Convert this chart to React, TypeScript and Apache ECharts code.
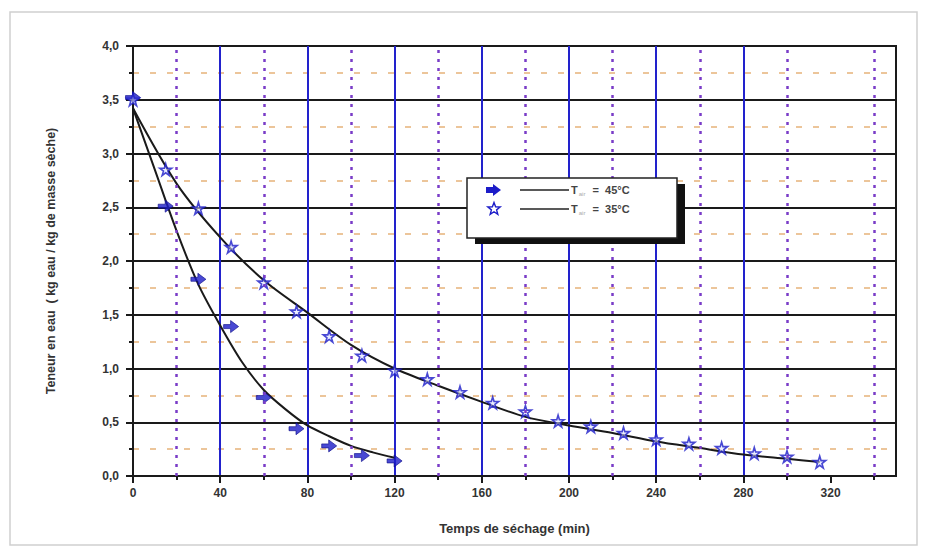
import React, { useEffect, useRef } from "react";
import * as echarts from "echarts";

// Drying kinetics: moisture content vs drying time at two air temperatures
const times45 = [0, 15, 30, 45, 60, 75, 90, 105, 120];
const moisture45 = [3.52, 2.51, 1.83, 1.39, 0.73, 0.44, 0.28, 0.19, 0.14];

const times35 = [0, 15, 30, 45, 60, 75, 90, 105, 120, 135, 150, 165, 180, 195, 210, 225, 240, 255, 270, 285, 300, 315];
const moisture35 = [3.5, 2.85, 2.49, 2.13, 1.8, 1.53, 1.3, 1.12, 0.98, 0.9, 0.78, 0.68, 0.6, 0.51, 0.46, 0.4, 0.34, 0.3, 0.26, 0.21, 0.18, 0.13];

// Fitted model curves
const fitTimes45 = [0, 10, 20, 30, 40, 50, 60, 70, 80, 90, 100, 110, 120];
const fitValues45 = [3.42, 2.85, 2.28, 1.78, 1.4, 1.06, 0.8, 0.62, 0.47, 0.37, 0.28, 0.22, 0.17];

const fitTimes35 = [0, 20, 40, 60, 80, 100, 120, 140, 160, 180, 200, 220, 240, 260, 280, 300, 315];
const fitValues35 = [3.42, 2.72, 2.22, 1.82, 1.52, 1.22, 1.0, 0.84, 0.69, 0.55, 0.47, 0.4, 0.32, 0.26, 0.2, 0.16, 0.13];

const xMajorTicks = [0, 40, 80, 120, 160, 200, 240, 280, 320];
const xMinorTicks = [20, 60, 100, 140, 180, 220, 260, 300, 340];

const legendLabels = ["45°C", "35°C"];
const xAxisTitle = "Temps de séchage (min)";
const yAxisTitle = "Teneur en eau  ( kg eau / kg de masse sèche)";

const BLUE = "#1c1cc8";
const FONT = "Liberation Sans, Arial, sans-serif";
const ARROW_PATH = "path://M0,4 L7,4 L7,0 L15,6 L7,12 L7,8 L0,8 Z";
const STAR_PATH =
  "path://M50,0 L61,35 L98,35 L68,57 L79,91 L50,70 L21,91 L32,57 L2,35 L39,35 Z";

function starPoints(cx: number, cy: number, r: number): number[][] {
  const pts: number[][] = [];
  for (let i = 0; i < 10; i++) {
    const rr = i % 2 === 0 ? r : r * 0.42;
    const a = -Math.PI / 2 + (i * Math.PI) / 5;
    pts.push([cx + rr * Math.cos(a), cy + rr * Math.sin(a)]);
  }
  return pts;
}

export default function App() {
  const ref = useRef<HTMLDivElement>(null);

  useEffect(() => {
    if (!ref.current) return;
    const chart = echarts.init(ref.current, null, { renderer: "svg" });

    const zip = (xs: number[], ys: number[]) => xs.map((x, i) => [x, ys[i]]);

    // legend box, drawn above the grid
    const LX = 467;
    const LY = 178;
    const LZ = 100;

    chart.setOption({
      animation: false,
      backgroundColor: "#ffffff",
      textStyle: { fontFamily: FONT },
      grid: {
        left: 133,
        top: 46,
        right: 29,
        bottom: 83,
        show: true,
        borderColor: "#1a1a1a",
        borderWidth: 2,
        backgroundColor: "transparent",
      },
      xAxis: [
        {
          type: "value",
          position: "bottom",
          min: 0,
          max: 350,
          interval: 40,
          name: xAxisTitle,
          nameLocation: "middle",
          nameGap: 46,
          nameTextStyle: { fontSize: 13, fontWeight: "bold", color: "#333", fontFamily: FONT },
          axisLine: { show: true, lineStyle: { color: "#1a1a1a", width: 2 } },
          axisTick: { show: true, length: 7, lineStyle: { color: "#1a1a1a", width: 2 }, customValues: xMajorTicks },
          axisLabel: {
            show: true,
            margin: 11,
            fontSize: 12,
            fontWeight: "bold",
            color: "#333",
            fontFamily: FONT,
            customValues: xMajorTicks,
          },
          splitLine: {
            show: true,
            showMinLine: false,
            showMaxLine: false,
            lineStyle: { color: "#2222cc", width: 2 },
          },
        },
        {
          type: "value",
          position: "bottom",
          min: 0,
          max: 350,
          interval: 20,
          axisLine: { show: false },
          axisTick: { show: true, length: 4, lineStyle: { color: "#1a1a1a", width: 2 }, customValues: xMinorTicks },
          axisLabel: { show: false },
          splitLine: { show: false },
        },
      ],
      yAxis: {
        type: "value",
        min: 0,
        max: 4,
        interval: 0.5,
        name: yAxisTitle,
        nameLocation: "middle",
        nameGap: 76,
        nameTextStyle: { fontSize: 12.5, fontWeight: "bold", color: "#333", fontFamily: FONT },
        axisLine: { show: true, lineStyle: { color: "#1a1a1a", width: 2 } },
        axisTick: { show: true, length: 7, lineStyle: { color: "#1a1a1a", width: 2 } },
        minorTick: { show: true, splitNumber: 2, length: 4, lineStyle: { color: "#1a1a1a", width: 2 } },
        axisLabel: {
          margin: 14,
          fontSize: 12,
          fontWeight: "bold",
          color: "#333",
          fontFamily: FONT,
          formatter: (v: number) => v.toFixed(1).replace(".", ","),
        },
        splitLine: { show: true, lineStyle: { color: "#1a1a1a", width: 2 } },
        minorSplitLine: {
          show: true,
          lineStyle: { color: "#e6b27a", width: 1.5, type: [6, 11] },
        },
      },
      series: [
        {
          // minor vertical grid (purple dotted), under the data
          type: "line",
          data: [],
          z: 1,
          silent: true,
          markLine: {
            silent: true,
            symbol: ["none", "none"],
            label: { show: false },
            lineStyle: { color: "#7a3cc8", width: 2.5, type: [3, 6] },
            data: xMinorTicks.map((v) => ({ xAxis: v })),
          },
        },
        {
          name: "fit45",
          type: "line",
          data: zip(fitTimes45, fitValues45),
          smooth: 0.3,
          showSymbol: false,
          symbol: "none",
          lineStyle: { color: "#1a1a1a", width: 2 },
          z: 3,
        },
        {
          name: "fit35",
          type: "line",
          data: zip(fitTimes35, fitValues35),
          smooth: 0.3,
          showSymbol: false,
          symbol: "none",
          lineStyle: { color: "#1a1a1a", width: 2 },
          z: 3,
        },
        {
          name: "T = 45°C",
          type: "scatter",
          data: zip(times45, moisture45),
          symbol: ARROW_PATH,
          symbolSize: [15, 12],
          itemStyle: { color: BLUE, borderColor: "#10108a", borderWidth: 0.8 },
          z: 4,
        },
        {
          name: "T = 35°C",
          type: "scatter",
          data: zip(times35, moisture35),
          symbol: STAR_PATH,
          symbolSize: 12,
          itemStyle: { color: "rgba(220,225,255,0.7)", borderColor: BLUE, borderWidth: 1.6 },
          z: 4,
        },
      ],
      graphic: [
        {
          type: "rect",
          x: 10,
          y: 12,
          shape: { width: 907, height: 533 },
          style: { fill: "none", stroke: "#d0d0d0", lineWidth: 1.5 },
          z: -1,
          silent: true,
        },
        { type: "rect", x: LX + 8, y: LY + 6, z: LZ, shape: { width: 210, height: 60 }, style: { fill: "#111" } },
        {
          type: "rect",
          x: LX,
          y: LY,
          z: LZ + 1,
          shape: { width: 210, height: 60 },
          style: { fill: "#fff", stroke: "#222", lineWidth: 1.5 },
        },
        {
          type: "polygon",
          z: LZ + 2,
          shape: {
            points: [
              [LX + 19, LY + 9],
              [LX + 26, LY + 9],
              [LX + 26, LY + 6],
              [LX + 34, LY + 12],
              [LX + 26, LY + 18],
              [LX + 26, LY + 15],
              [LX + 19, LY + 15],
            ],
          },
          style: { fill: BLUE },
        },
        {
          type: "polygon",
          z: LZ + 2,
          shape: { points: starPoints(LX + 27, LY + 31, 6.5) },
          style: { fill: "#fff", stroke: BLUE, lineWidth: 1.4 },
        },
        {
          type: "line",
          z: LZ + 2,
          shape: { x1: LX + 53, y1: LY + 12, x2: LX + 102, y2: LY + 12 },
          style: { stroke: "#222", lineWidth: 1.5 },
        },
        {
          type: "line",
          z: LZ + 2,
          shape: { x1: LX + 53, y1: LY + 31, x2: LX + 102, y2: LY + 31 },
          style: { stroke: "#222", lineWidth: 1.5 },
        },
        ...legendLabels.map((lbl, i) => ({
          type: "text",
          z: LZ + 3,
          x: LX + 104,
          y: LY + 12 + i * 19,
          style: {
            text: `{t|T}{s|air}{t|  =  ${lbl}}`,
            verticalAlign: "middle",
            rich: {
              t: { fontSize: 11, fontWeight: "bold", fill: "#444", fontFamily: FONT },
              s: { fontSize: 6, fill: "#aaa", fontFamily: FONT, padding: [8, 1, 0, 1] },
            },
          },
        })),
      ],
    });

    return () => chart.dispose();
  }, []);

  return (
    <div
      ref={ref}
      style={{ position: "absolute", left: 0, top: 0, width: 925, height: 559, background: "#fff" }}
    />
  );
}
